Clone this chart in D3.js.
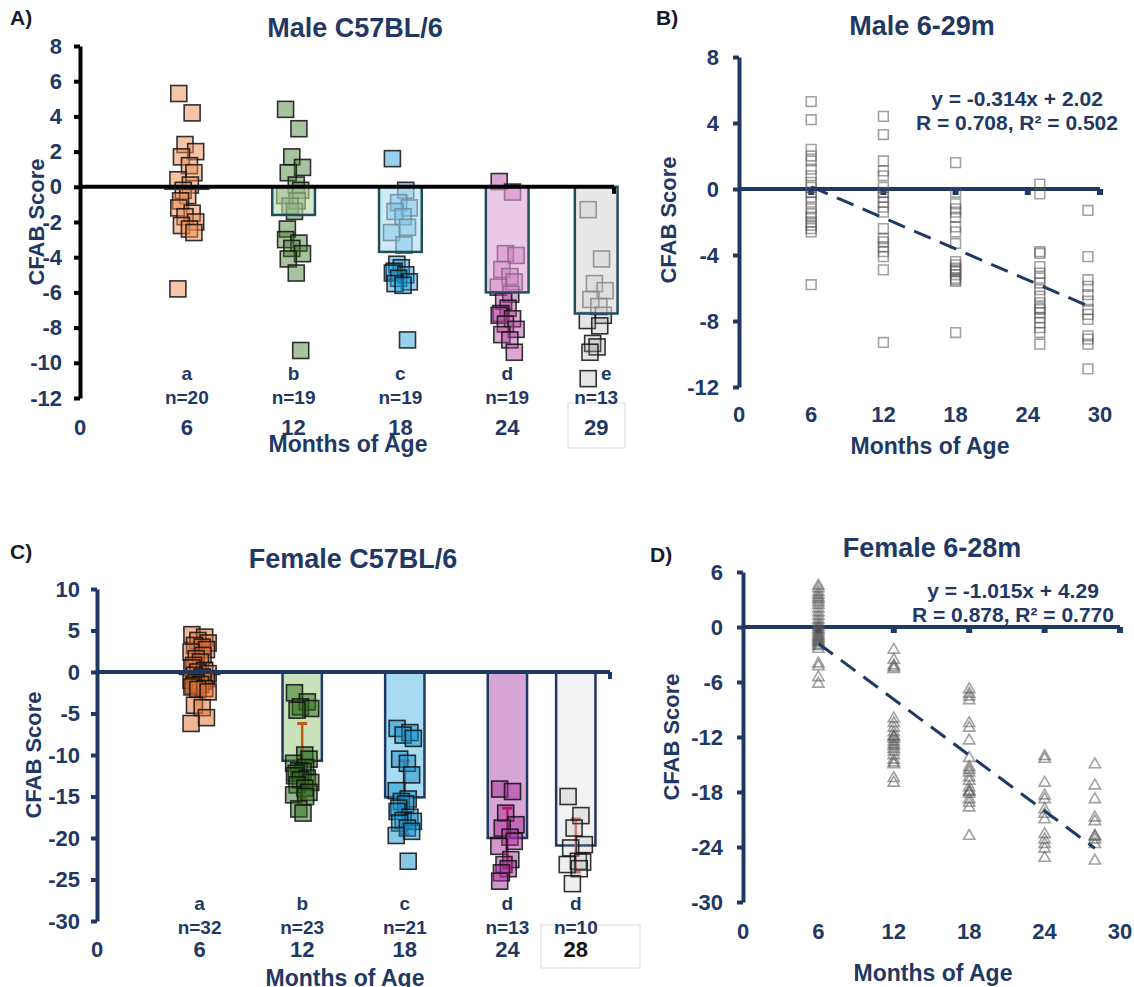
<!DOCTYPE html>
<html>
<head>
<meta charset="utf-8">
<script src="https://cdn.jsdelivr.net/npm/d3@7"></script>
<style>
body { margin: 0; background: #fff; }
svg text { font-family: "Liberation Sans", Arial, sans-serif; font-weight: bold; }
</style>
</head>
<body>
<svg id="fig" width="1134" height="987"></svg>
<script>
// ---- male data (panels A and B) ----
const maleAges = [6, 12, 18, 24, 29];
const maleAgesB = [6, 12, 18, 25, 29]; // 24m group sits at ~25 in panel B
const maleLetters = ['a', 'b', 'c', 'd', 'e'];
const maleN = [20, 19, 19, 19, 13];
const maleMeans = [-0.1, -1.6, -3.7, -6.0, -7.2];
const male6 = [5.3, 4.2, 2.4, 2.0, 1.7, 1.2, 0.8, 0.4, 0.1, -0.2, -0.5, -0.8, -1.2, -1.5, -1.7, -2.0, -2.2, -2.4, -2.6, -5.8];
const male12 = [4.4, 3.3, 1.7, 1.1, 0.8, 0.1, -0.2, -0.5, -0.8, -1.1, -1.4, -2.4, -3.0, -3.2, -3.5, -3.8, -4.1, -4.9, -9.3];
const male18 = [1.6, -0.2, -0.9, -1.2, -1.4, -1.7, -2.3, -2.6, -3.3, -4.4, -4.6, -4.8, -4.9, -5.0, -5.2, -5.4, -5.5, -5.6, -8.7];
const male24 = [0.3, -0.3, -3.8, -3.9, -4.7, -5.1, -5.4, -5.7, -6.1, -6.5, -6.9, -7.2, -7.3, -7.5, -7.8, -8.1, -8.4, -8.7, -9.4];
const male29 = [-1.3, -4.1, -5.5, -5.9, -6.4, -6.8, -7.3, -7.6, -7.9, -8.9, -9.1, -9.4, -10.9];
const maleFit = [-0.314, 2.02];
const maleFitText = ['y = -0.314x + 2.02', 'R = 0.708, R² = 0.502'];

// ---- female data (panels C and D) ----
const femaleAges = [6, 12, 18, 24, 28];
const femaleLetters = ['a', 'b', 'c', 'd', 'd'];
const femaleN = [32, 23, 21, 13, 10];
const femaleMeans = [-0.2, -10.7, -15.1, -20.0, -20.9];
const femaleSD = [2.6, 4.5, 4.4, 3.6, 3.2];
const fem6 = [4.5, 4.2, 3.8, 3.5, 3.2, 3.0, 2.7, 2.4, 2.0, 1.6, 1.2, 0.8, 0.5, 0.2, 0.0, -0.2, -0.4, -0.6, -0.8, -1.0, -1.1, -1.3, -1.5, -1.6, -1.8, -2.0, -2.1, -2.4, -4.0, -4.3, -5.5, -6.2];
const fem12 = [-2.5, -3.6, -4.2, -4.4, -4.6, -10.0, -10.5, -11.0, -11.5, -11.9, -12.0, -12.2, -12.5, -12.8, -13.0, -13.3, -13.6, -14.0, -14.5, -14.8, -15.0, -16.5, -17.0];
const fem18 = [-6.8, -7.3, -7.6, -8.0, -10.5, -11.0, -12.4, -14.3, -15.3, -15.6, -15.9, -16.4, -16.8, -17.5, -17.9, -18.0, -18.2, -18.8, -19.2, -19.7, -22.8];
const fem24 = [-14.1, -14.4, -17.0, -18.4, -18.8, -19.9, -20.4, -21.0, -22.6, -23.2, -23.7, -24.2, -25.2];
const fem28 = [-15.0, -17.3, -18.8, -20.8, -21.2, -22.8, -22.9, -23.2, -23.7, -25.5];
const femaleFit = [-1.015, 4.29];
const femaleFitText = ['y = -1.015x + 4.29', 'R = 0.878, R² = 0.770'];

const navy = '#1f3864';
const jitter = [-0.45, 0.3, -0.1, 0.5, -0.3, 0.15, 0.4, -0.5, 0.2, -0.2, 0.05, -0.35];
const svg = d3.select('#fig');

// y axis with thick line and small ticks
function drawYAxis(g, x0, y, ticks, lineColor, pad) {
  const ax = g.append('g')
    .attr('transform', 'translate(' + x0 + ',0)')
    .call(d3.axisLeft(y).tickValues(ticks).tickFormat(d => String(d))
      .tickSize(6).tickSizeOuter(0).tickPadding(pad));
  ax.select('.domain').attr('stroke', lineColor).attr('stroke-width', 4);
  ax.selectAll('.tick line').attr('stroke', lineColor).attr('stroke-width', 4);
  ax.selectAll('.tick text').attr('fill', navy).style('font-size', '22px');
}

function drawXLabels(g, x, ticks, yPos) {
  g.selectAll(null).data(ticks).enter().append('text')
    .attr('x', d => x(d)).attr('y', yPos)
    .attr('text-anchor', 'middle').attr('fill', navy)
    .style('font-size', '22px')
    .text(d => d);
}

function drawTitles(g, t) {
  g.append('text').attr('x', t.title[0]).attr('y', t.title[1])
    .attr('text-anchor', 'middle').attr('fill', navy).style('font-size', '27px').text(t.titleText);
  g.append('text').attr('x', t.tag[0]).attr('y', t.tag[1])
    .attr('fill', '#1a1a2a').style('font-size', '21px').text(t.tagText);
  g.append('text').attr('transform', 'translate(' + t.ylab[0] + ',' + t.ylab[1] + ') rotate(-90)')
    .attr('text-anchor', 'middle').attr('fill', navy).style('font-size', '22px').text('CFAB Score');
  g.append('text').attr('x', t.xlab[0]).attr('y', t.xlab[1])
    .attr('text-anchor', 'middle').attr('fill', navy).style('font-size', '23px').text('Months of Age');
}

function barPanel(p) {
  const g = svg.append('g');
  const x = d3.scaleLinear().domain([0, 30]).range(p.xr);
  const y = d3.scaleLinear().domain(p.yd).range(p.yr);
  const s = p.size;

  const drawPoints = () => p.values.forEach((vals, i) => {
    g.selectAll(null).data(vals).enter().append('rect')
      .attr('x', (d, j) => x(p.ages[i] + jitter[j % jitter.length]) - s / 2)
      .attr('y', d => y(d) - s / 2)
      .attr('width', s).attr('height', s)
      .attr('fill', p.pointFill[i]).attr('fill-opacity', p.pointOpacity[i])
      .attr('stroke', '#111').attr('stroke-opacity', 0.85).attr('stroke-width', 1.6);
  });

  const drawBars = () => g.selectAll(null).data(p.means).enter().append('rect')
    .attr('x', (d, i) => x(p.ages[i] - p.bw))
    .attr('width', x(2 * p.bw) - x(0))
    .attr('y', d => Math.min(y(0), y(d)))
    .attr('height', d => Math.max(2, Math.abs(y(d) - y(0))))
    .attr('fill', (d, i) => p.barFill[i]).attr('fill-opacity', p.barOpacity)
    .attr('stroke', p.barStroke).attr('stroke-width', 2.5);

  const drawErr = () => p.means.forEach((m, i) => {
    const cx = x(p.ages[i]);
    const eg = g.append('g').attr('stroke', p.errColor[i]).attr('stroke-width', 2.5);
    eg.append('line').attr('x1', cx).attr('x2', cx).attr('y1', y(m + p.sd[i])).attr('y2', y(m - p.sd[i]));
    [m + p.sd[i], m - p.sd[i]].forEach(v => {
      eg.append('line').attr('x1', cx - 5).attr('x2', cx + 5).attr('y1', y(v)).attr('y2', y(v)).attr('stroke-width', 3);
    });
  });

  if (p.sd) {
    drawBars(); drawErr(); drawPoints();
  } else {
    drawPoints(); drawBars();
  }

  // zero line
  g.append('line').attr('x1', x(0)).attr('x2', x(30)).attr('y1', y(0)).attr('y2', y(0))
    .attr('stroke', p.axisColor).attr('stroke-width', 4);
  g.append('line').attr('x1', x(30)).attr('x2', x(30)).attr('y1', y(0)).attr('y2', y(0) + 7)
    .attr('stroke', p.axisColor).attr('stroke-width', 4);

  drawYAxis(g, x(0), y, p.yTicks, p.axisColor, p.pad);

  // boxed last-age label
  const lastAge = p.ages[p.ages.length - 1];
  g.append('rect').attr('x', p.box[0]).attr('y', p.box[1]).attr('width', p.box[2]).attr('height', p.box[3])
    .attr('fill', '#fff').attr('stroke', '#dcdcdc').attr('stroke-width', 1);
  drawXLabels(g, x, [0].concat(p.ages.slice(0, -1)), p.xLabY);
  g.append('text').attr('x', x(lastAge)).attr('y', p.xLabY).attr('text-anchor', 'middle')
    .attr('fill', p.lastColor).style('font-size', '22px').text(lastAge);

  g.selectAll(null).data(p.letters).enter().append('text')
    .attr('x', (d, i) => x(p.ages[i]) + (i === p.ages.length - 1 ? p.lastShift : 0)).attr('y', p.letY)
    .attr('text-anchor', 'middle').attr('fill', navy).style('font-size', '19px').text(d => d);
  g.selectAll(null).data(p.n).enter().append('text')
    .attr('x', (d, i) => x(p.ages[i])).attr('y', p.letY + 24)
    .attr('text-anchor', 'middle').attr('fill', navy).style('font-size', '19px').text(d => 'n=' + d);

  drawTitles(g, p.text);
}

function scatterPanel(p) {
  const g = svg.append('g');
  const x = d3.scaleLinear().domain([0, 30]).range(p.xr);
  const y = d3.scaleLinear().domain(p.yd).range(p.yr);

  g.append('line').attr('x1', x(0)).attr('x2', x(30)).attr('y1', y(0)).attr('y2', y(0))
    .attr('stroke', navy).attr('stroke-width', 4);
  g.selectAll(null).data([6, 12, 18, 24, 30]).enter().append('rect')
    .attr('x', d => x(d) - 3).attr('y', y(0)).attr('width', 6).attr('height', 6).attr('fill', navy);

  const sym = d3.symbol().type(p.shape).size(p.symSize);
  p.values.forEach((vals, i) => {
    g.selectAll(null).data(vals).enter().append('path')
      .attr('d', sym)
      .attr('transform', d => 'translate(' + x(p.ages[i]) + ',' + y(d) + ')')
      .attr('fill', 'none').attr('stroke', '#555').attr('stroke-opacity', 0.55).attr('stroke-width', 1.6);
  });

  const x1 = p.ages[0], x2 = p.ages[p.ages.length - 1];
  g.append('line')
    .attr('x1', x(x1)).attr('y1', y(p.fit[0] * x1 + p.fit[1]))
    .attr('x2', x(x2)).attr('y2', y(p.fit[0] * x2 + p.fit[1]))
    .attr('stroke', navy).attr('stroke-width', 3).attr('stroke-dasharray', '18,10');

  drawYAxis(g, x(0), y, p.yTicks, navy, 14);
  drawXLabels(g, x, [0, 6, 12, 18, 24, 30], p.xLabY);

  p.fitText.forEach((t, i) => {
    g.append('text').attr('x', p.eq[0]).attr('y', p.eq[1] + i * 24)
      .attr('text-anchor', 'middle').attr('fill', navy).style('font-size', '21px').text(t);
  });
  drawTitles(g, p.text);
}

barPanel({
  xr: [80, 614], yd: [-12, 8], yr: [398, 46], size: 16, bw: 1.2, pad: 12,
  ages: maleAges, means: maleMeans, values: [male6, male12, male18, male24, male29],
  pointFill: ['#ee8a50', '#3d7a2a', '#1a9ad6', '#b0409e', '#999999'],
  pointOpacity: [0.5, 0.45, 0.45, 0.45, 0.25],
  barFill: ['#f4b183', '#bbd9aa', '#afdcf2', '#dfa3d9', '#d9d9d9'], barOpacity: 0.6,
  barStroke: '#1f4e5f', axisColor: '#000',
  yTicks: [8, 6, 4, 2, 0, -2, -4, -6, -8, -10, -12],
  letters: maleLetters, n: maleN, letY: 380, xLabY: 435, lastShift: 10,
  box: [568, 403, 57, 45], lastColor: navy,
  text: { title: [355, 37], titleText: 'Male C57BL/6', tag: [10, 25], tagText: 'A)',
          ylab: [44, 222], xlab: [348, 452] }
});

barPanel({
  xr: [97, 610], yd: [-30, 10], yr: [921, 589], size: 16, bw: 1.15, pad: 11,
  ages: femaleAges, means: femaleMeans, sd: femaleSD, values: [fem6, fem12, fem18, fem24, fem28],
  pointFill: ['#e07030', '#2e6b1e', '#1392cc', '#a5309a', '#aaaaaa'],
  pointOpacity: [0.5, 0.5, 0.5, 0.5, 0.2],
  barFill: ['#f4b183', '#c9e2b9', '#a6dbf2', '#d8a6d6', '#f2f2f2'], barOpacity: 1,
  errColor: ['#e00000', '#c55a11', '#9e3a5a', '#c00040', '#e06666'],
  barStroke: navy, axisColor: navy,
  yTicks: [10, 5, 0, -5, -10, -15, -20, -25, -30],
  letters: femaleLetters, n: femaleN, letY: 910, xLabY: 957, lastShift: 0,
  box: [541, 925, 99, 43], lastColor: '#111',
  text: { title: [353, 568], titleText: 'Female C57BL/6', tag: [10, 559], tagText: 'C)',
          ylab: [41, 755], xlab: [345, 986] }
});

scatterPanel({
  xr: [739, 1100], yd: [-12, 8], yr: [387, 57],
  ages: maleAgesB, values: [male6, male12, male18, male24, male29],
  shape: d3.symbolSquare, symSize: 95, fit: maleFit, fitText: maleFitText, eq: [1017, 106],
  yTicks: [8, 4, 0, -4, -8, -12], xLabY: 422,
  text: { title: [922, 35], titleText: 'Male 6-29m', tag: [656, 25], tagText: 'B)',
          ylab: [676, 220], xlab: [930, 454] }
});

scatterPanel({
  xr: [743, 1120], yd: [-30, 6], yr: [902, 572],
  ages: femaleAges, values: [fem6, fem12, fem18, fem24, fem28],
  shape: d3.symbolTriangle, symSize: 55, fit: femaleFit, fitText: femaleFitText, eq: [1013, 598],
  yTicks: [6, 0, -6, -12, -18, -24, -30], xLabY: 939,
  text: { title: [932, 557], titleText: 'Female 6-28m', tag: [650, 562], tagText: 'D)',
          ylab: [679, 737], xlab: [933, 981] }
});
</script>
</body>
</html>
